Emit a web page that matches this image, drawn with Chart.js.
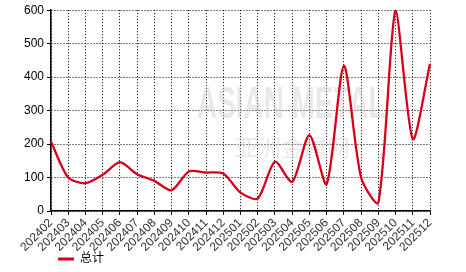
<!DOCTYPE html>
<html>
<head>
<meta charset="utf-8">
<script src="https://cdn.jsdelivr.net/npm/chart.js@4"></script>
<style>
html,body{margin:0;padding:0;background:#fff;}
#wrap{width:466px;height:272px;position:relative;}
</style>
</head>
<body>
<div id="wrap"><canvas id="c" width="466" height="272"></canvas></div>
<script>
const categories = ["202402","202403","202404","202405","202406","202407","202408","202409","202410","202411","202412","202501","202502","202503","202504","202505","202506","202507","202508","202509","202510","202511","202512"];
const totalValues = [207,100,83,108,146,110,90,62,118,115,112,55,37,147,87,227,80,434,100,25,600,215,440];
const yTicks = [0,100,200,300,400,500,600];
const seriesName = "总计";

const FONT = "'Liberation Sans', Arial, 'Noto Sans CJK SC', sans-serif";

const watermark = {
  id: 'watermark',
  beforeDatasetsDraw(chart) {
    const ctx = chart.ctx;
    ctx.save();
    ctx.fillStyle = 'rgba(200,200,200,0.4)';
    ctx.translate(197, 118);
    ctx.scale(0.62, 1);
    ctx.font = "bold 45px 'Liberation Sans', Arial, sans-serif";
    ctx.textBaseline = 'alphabetic';
    ctx.fillText('ASIAN METAL', 0, 0);
    ctx.restore();
    ctx.save();
    ctx.fillStyle = 'rgba(200,200,200,0.4)';
    ctx.font = "23px 'Noto Sans CJK SC', sans-serif";
    ctx.fillText('亚洲金属网', 235, 147);
    ctx.restore();
  }
};

// Rotated category labels, positioned from the x scale's own tick pixels
const xLabels = {
  id: 'xLabels',
  afterDraw(chart) {
    const sc = chart.scales.x;
    const ctx = chart.ctx;
    ctx.save();
    ctx.fillStyle = '#333';
    ctx.font = "12px " + FONT;
    ctx.textAlign = 'right';
    ctx.textBaseline = 'middle';
    sc.ticks.forEach((t, i) => {
      const x = sc.getPixelForTick(i);
      const lbl = sc.getLabelForValue(t.value);
      ctx.save();
      ctx.translate(x, sc.top + 10);
      ctx.rotate(-Math.PI / 4);
      ctx.fillText(lbl, 0, 0);
      ctx.restore();
    });
    ctx.restore();
  }
};

const legendPlace = {
  id: 'legendPlace',
  beforeDraw(chart) {
    const lg = chart.legend;
    if (!lg) return;
    const w = lg.right - lg.left;
    const h = lg.bottom - lg.top;
    lg.left = 52; lg.right = 52 + w;
    lg.top = 247; lg.bottom = 247 + h;
  }
};

new Chart(document.getElementById('c'), {
  type: 'line',
  data: {
    labels: categories,
    datasets: [{
      label: seriesName,
      data: totalValues,
      borderColor: '#d7001b',
      backgroundColor: '#d7001b',
      borderWidth: 2.3,
      pointRadius: 0,
      tension: 0.26,
      fill: false
    }]
  },
  options: {
    responsive: false,
    animation: false,
    devicePixelRatio: 1,
    layout: { padding: { left: 0, right: 36, top: 10, bottom: 1 } },
    plugins: {
      legend: {
        position: 'bottom',
        align: 'start',
        labels: {
          boxWidth: 16,
          boxHeight: 3,
          padding: 6,
          color: '#000',
          font: { family: FONT, size: 12 },
          generateLabels(chart) {
            return chart.data.datasets.map((d, i) => ({
              text: d.label, fillStyle: d.borderColor, strokeStyle: d.borderColor,
              lineWidth: 0, hidden: false, datasetIndex: i, fontColor: '#000'
            }));
          }
        }
      },
      tooltip: { enabled: false }
    },
    scales: {
      x: {
        type: 'category',
        offset: false,
        afterFit(s) { s.height = 32; },
        grid: { color: '#000', lineWidth: 1, drawTicks: true, tickLength: 4, tickColor: '#000', tickBorderDash: [] },
        border: { display: true, color: '#000', width: 1.5, dash: [1, 2] },
        ticks: { display: false, autoSkip: false, maxRotation: 0, minRotation: 0 }
      },
      y: {
        min: 0, max: 600,
        afterFit(s) { s.width = 51; },
        afterBuildTicks(s) { s.ticks = yTicks.map(v => ({ value: v })); },
        grid: { color: '#000', lineWidth: 1, drawTicks: true, tickLength: 4, tickColor: '#000', tickBorderDash: [] },
        border: { display: true, color: '#000', width: 1.5, dash: [1, 2] },
        ticks: { padding: 3, color: '#000', font: { family: FONT, size: 12 } }
      }
    }
  },
  plugins: [watermark, xLabels, legendPlace]
});
</script>
</body>
</html>
